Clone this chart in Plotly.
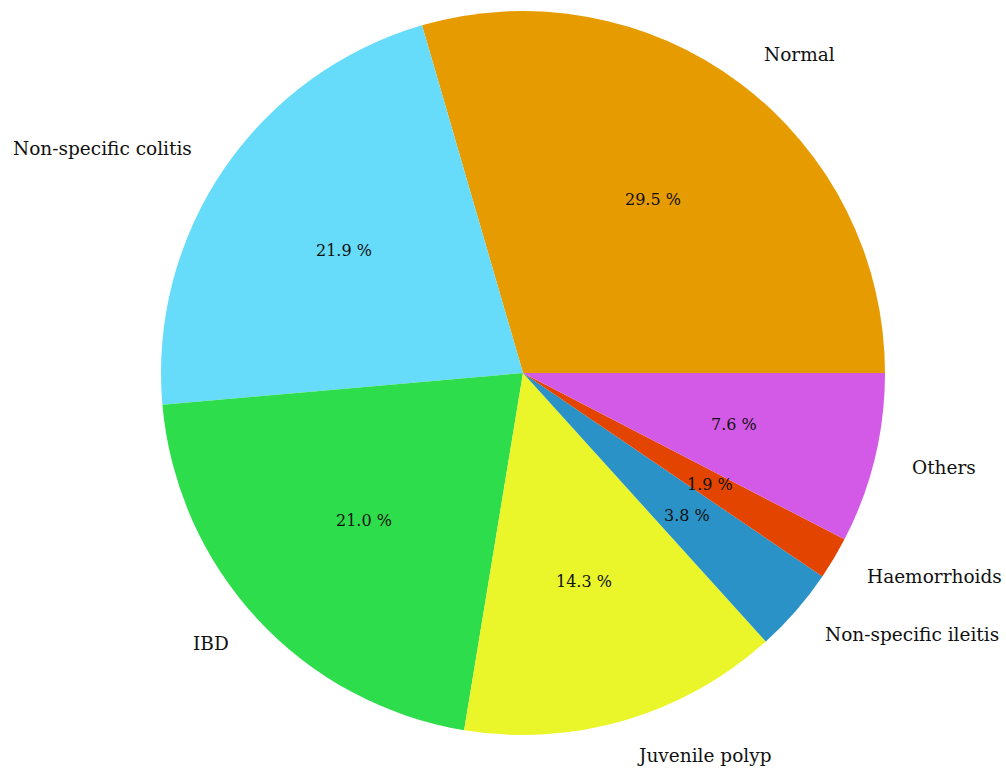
import math
import plotly.graph_objects as go

categories = ["Normal", "Non-specific colitis", "IBD", "Juvenile polyp",
              "Non-specific ileitis", "Haemorrhoids", "Others"]
values = [29.5, 21.9, 21.0, 14.3, 3.8, 1.9, 7.6]
colors = ["#e69b00", "#66dcfa", "#2edd4c", "#eaf52a", "#2a92c6", "#e34400", "#d35ae6"]

W, H = 1006, 769
cx_px, cy_px, R = 523, 373, 362

dom_x = [(cx_px - R) / W, (cx_px + R) / W]
dom_y = [1 - (cy_px + R) / H, 1 - (cy_px - R) / H]

total = sum(values)
first_span = 360.0 * values[0] / total

fig = go.Figure(go.Pie(
    labels=categories, values=values, sort=False,
    direction="counterclockwise", rotation=90 - first_span,
    marker=dict(colors=colors, line=dict(width=0)),
    textinfo="none", hoverinfo="label+percent",
    domain=dict(x=dom_x, y=dom_y), showlegend=False,
))

font_family = "DejaVu Serif"
start = 0.0
annotations = []
for cat, v in zip(categories, values):
    span = 360.0 * v / total
    mid = math.radians(start + span / 2)
    start += span
    lx = cx_px + 1.1 * R * math.cos(mid)
    ly = cy_px - 1.1 * R * math.sin(mid)
    annotations.append(dict(
        x=lx / W, y=1 - ly / H, xref="paper", yref="paper",
        text=cat, showarrow=False,
        xanchor="left" if math.cos(mid) > 0 else "right", yanchor="middle",
        font=dict(family=font_family, size=18.5, color="#111111"),
    ))
    px = cx_px + 0.6 * R * math.cos(mid)
    py = cy_px - 0.6 * R * math.sin(mid)
    annotations.append(dict(
        x=px / W, y=1 - py / H, xref="paper", yref="paper",
        text=f"{v:.1f} %", showarrow=False,
        xanchor="center", yanchor="middle",
        font=dict(family=font_family, size=16, color="#111111"),
    ))

fig.update_layout(
    width=W, height=H,
    margin=dict(l=0, r=0, t=0, b=0),
    paper_bgcolor="white", plot_bgcolor="white",
    annotations=annotations,
)

fig.write_html("out.html")
